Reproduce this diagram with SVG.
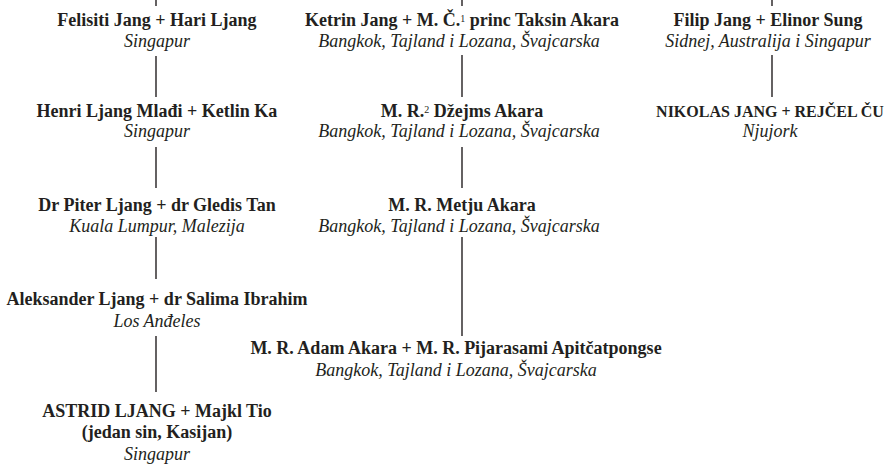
<svg xmlns="http://www.w3.org/2000/svg" width="889" height="465" viewBox="0 0 889 465">
<style>
text{font-family:"Liberation Serif","DejaVu Serif",serif;fill:#231f20;text-anchor:middle;font-size:18px}
.b{font-weight:bold}
.i{font-style:italic}
.sup{font-size:10px;font-weight:normal}
line{stroke:#231f20;stroke-width:1.4}
</style>
<rect width="889" height="465" fill="#fff"/>
<g id="connectors">
<line x1="156" y1="0" x2="156" y2="6"/>
<line x1="156" y1="56" x2="156" y2="97"/>
<line x1="156" y1="147" x2="156" y2="188"/>
<line x1="156" y1="237" x2="156" y2="279"/>
<line x1="156" y1="336" x2="156" y2="392"/>
<line x1="462" y1="0" x2="462" y2="6"/>
<line x1="462" y1="55" x2="462" y2="97"/>
<line x1="462" y1="147" x2="462" y2="188"/>
<line x1="462" y1="237" x2="462" y2="336"/>
<line x1="772" y1="0" x2="772" y2="6"/>
<line x1="772" y1="55" x2="772" y2="97"/>
</g>
<g id="n1"><text class="b" x="157" y="25.5">Felisiti Jang + Hari Ljang</text><text class="i" x="157" y="46.5">Singapur</text></g>
<g id="n2"><text class="b" x="157" y="116.5">Henri Ljang Mlađi + Ketlin Ka</text><text class="i" x="157" y="137">Singapur</text></g>
<g id="n3"><text class="b" x="157" y="210.5">Dr Piter Ljang + dr Gledis Tan</text><text class="i" x="157" y="231.5">Kuala Lumpur, Malezija</text></g>
<g id="n4"><text class="b" x="157" y="305">Aleksander Ljang + dr Salima Ibrahim</text><text class="i" x="157" y="326.5">Los Anđeles</text></g>
<g id="n5"><text class="b" x="157" y="416.5">ASTRID LJANG + Majkl Tio</text><text class="b" x="157" y="437.5">(jedan sin, Kasijan)</text><text class="i" x="157" y="460">Singapur</text></g>
<g id="n6"><text class="b" x="462" y="25.5">Ketrin Jang + M. Č.<tspan class="sup" dy="-4">1</tspan><tspan dy="4"> princ Taksin Akara</tspan></text><text class="i" x="459" y="46.5">Bangkok, Tajland i Lozana, Švajcarska</text></g>
<g id="n7"><text class="b" x="462" y="116.5">M. R.<tspan class="sup" dy="-4">2</tspan><tspan dy="4"> Džejms Akara</tspan></text><text class="i" x="459" y="137">Bangkok, Tajland i Lozana, Švajcarska</text></g>
<g id="n8"><text class="b" x="462" y="210.5">M. R. Metju Akara</text><text class="i" x="459" y="231.5">Bangkok, Tajland i Lozana, Švajcarska</text></g>
<g id="n9"><text class="b" x="456" y="354">M. R. Adam Akara + M. R. Pijarasami Apitčatpongse</text><text class="i" x="456" y="375.5">Bangkok, Tajland i Lozana, Švajcarska</text></g>
<g id="n10"><text class="b" x="768" y="25.5">Filip Jang + Elinor Sung</text><text class="i" x="768" y="46.5">Sidnej, Australija i Singapur</text></g>
<g id="n11"><text class="b" x="770" y="116.5" style="font-size:16px">NIKOLAS JANG + REJČEL ČU</text><text class="i" x="770" y="137">Njujork</text></g>
</svg>
